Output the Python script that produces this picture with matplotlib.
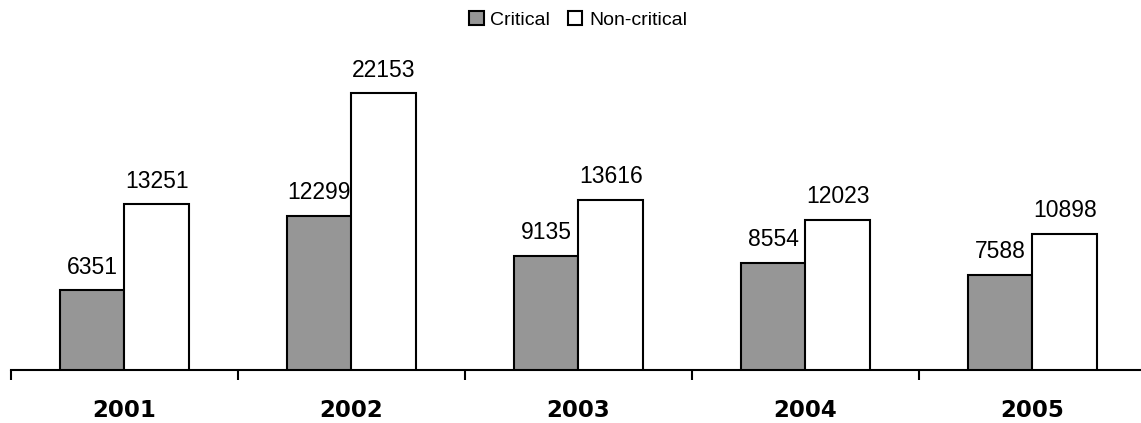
import matplotlib
matplotlib.use("Agg")
import matplotlib.pyplot as plt
import numpy as np

years = ["2001", "2002", "2003", "2004", "2005"]
critical = [6351, 12299, 9135, 8554, 7588]
non_critical = [13251, 22153, 13616, 12023, 10898]

W, H = 1141, 423
fig = plt.figure(figsize=(W / 100, H / 100), dpi=100)
fig.patch.set_facecolor("white")

left_px, base_px = 11, 369.5
ymax = 25000
px_per_unit = 276 / 22153
ax_h_px = ymax * px_per_unit
ax = fig.add_axes([left_px / W, (H - base_px) / H, 1135 / W, ax_h_px / H])

x = np.arange(len(years))
bw = 0.286
off = 0.143
b1 = ax.bar(x - off, critical, bw, color="#969696", edgecolor="black",
            linewidth=1.5, label="Critical", zorder=3)
b2 = ax.bar(x + off, non_critical, bw, color="white", edgecolor="black",
            linewidth=1.5, label="Non-critical", zorder=3)

lab_font = dict(family="Liberation Sans", size=16.5, color="black")
for bars, vals in ((b1, critical), (b2, non_critical)):
    for r, v in zip(bars, vals):
        ax.annotate(str(v), (r.get_x() + r.get_width() / 2, v),
                    xytext=(0, 8.5), textcoords="offset points",
                    ha="center", va="bottom", **lab_font)

ax.set_xlim(-0.5, len(years) - 0.5)
ax.set_ylim(0, ymax)
for s in ("top", "right", "left"):
    ax.spines[s].set_visible(False)
ax.spines["bottom"].set_linewidth(1.5)
ax.set_yticks([])
ax.set_xticks(np.arange(len(years) + 1) - 0.5)
ax.set_xticklabels([])
ax.tick_params(axis="x", length=7, width=1.5, direction="out")
ax.set_xticks(x, minor=True)
ax.set_xticklabels(years, minor=True, fontsize=16.5, fontweight="bold",
                   family="DejaVu Sans")
ax.tick_params(axis="x", which="minor", length=0, pad=21)

fig.legend(handles=[b1, b2], labels=["Critical", "Non-critical"],
           loc="center", bbox_to_anchor=(578 / W, 1 - 20 / H), ncol=2,
           frameon=False, prop=dict(family="Liberation Sans", size=14),
           handlelength=0.75, handleheight=0.75, handletextpad=0.35,
           columnspacing=0.9, borderaxespad=0)

fig.savefig("out.png", dpi=100, facecolor="white")
